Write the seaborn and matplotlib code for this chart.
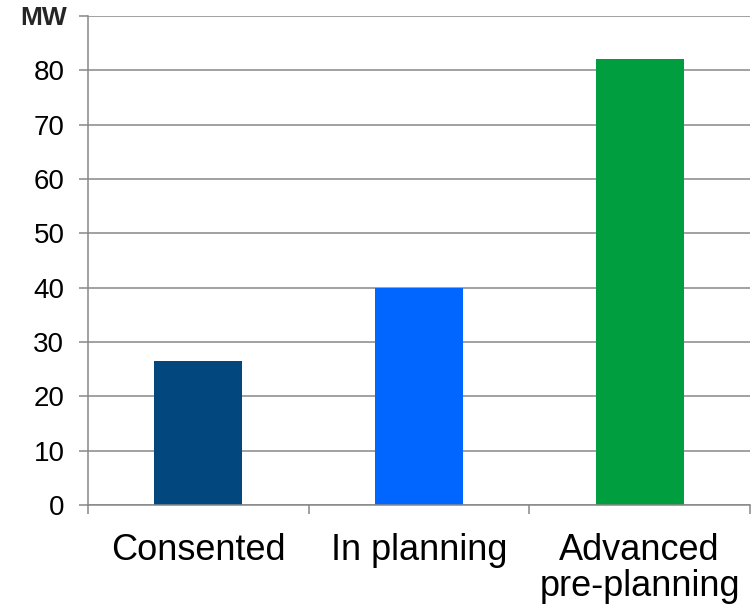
import matplotlib
matplotlib.use("Agg")
import matplotlib.pyplot as plt
import seaborn as sns
import pandas as pd
from matplotlib.ticker import FixedLocator, MultipleLocator

# Capacity by project stage (MW)
categories = ["Consented", "In planning", "Advanced\npre-planning"]
capacity_mw = [26.5, 40.0, 82.0]
bar_colors = ["#02487E", "#0066FF", "#009E3E"]
y_ticks = [0, 10, 20, 30, 40, 50, 60, 70, 80]

df = pd.DataFrame({"stage": categories, "mw": capacity_mw})

sns.set_theme(style="white")
plt.rcParams["font.family"] = ["Liberation Sans", "DejaVu Sans"]

grey = "#878787"
fig = plt.figure(figsize=(7.55, 6.11), dpi=100)
ax = fig.add_axes([88 / 755, (611 - 505) / 611, (750 - 88) / 755, (505 - 16) / 611])

sns.barplot(data=df, x="stage", y="mw", hue="stage", palette=bar_colors,
            order=categories, hue_order=categories, width=0.4,
            saturation=1, legend=False, linewidth=0, ax=ax)

ax.set_xlim(-0.5, 2.5)
ax.set_ylim(0, 90)
ax.set_yticks(y_ticks)
ax.yaxis.set_minor_locator(MultipleLocator(90))
ax.set_axisbelow(True)
ax.grid(axis="y", which="both", color=grey, linewidth=1.1)
ax.grid(axis="x", visible=False)

ax.set_xlabel("")
ax.set_ylabel("")

# category labels centred under bars, tick marks at category boundaries
ax.xaxis.set_minor_locator(FixedLocator([-0.5, 0.5, 1.5, 2.5]))
ax.tick_params(axis="x", which="major", length=0, pad=20, labelsize=26,
               colors="black")
ax.tick_params(axis="x", which="minor", bottom=True, length=6.5,
               width=1.1, color=grey)
for lbl in ax.get_xticklabels():
    lbl.set_linespacing(1.05)
ax.tick_params(axis="y", which="major", left=True, length=6.5, width=1.1,
               color=grey, pad=10.5, labelsize=20, labelcolor="black")
ax.tick_params(axis="y", which="minor", left=True, length=6.5, width=1.1,
               color=grey)

sns.despine(ax=ax, top=True, right=True)
for side in ("left", "bottom"):
    ax.spines[side].set_color(grey)
    ax.spines[side].set_linewidth(1.1)

ax.text(67 / 755, 1 - 18 / 611, "MW", transform=fig.transFigure,
        ha="right", va="center", fontsize=19, fontweight="bold")

fig.savefig("out.png", dpi=100)
